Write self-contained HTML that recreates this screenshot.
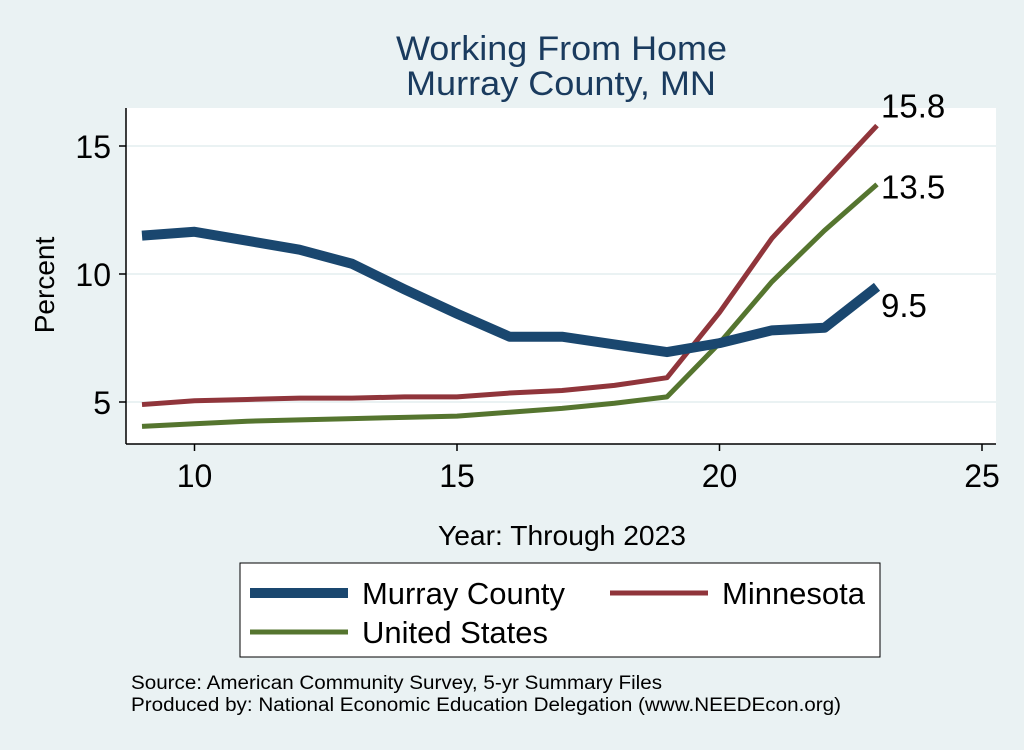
<!DOCTYPE html>
<html><head><meta charset="utf-8"><style>
body{margin:0;background:#eaf2f3;font-family:"Liberation Sans",sans-serif;}
</style></head><body>
<svg width="1024" height="745" xmlns="http://www.w3.org/2000/svg">
<rect width="1024" height="745" fill="#eaf2f3"/>
<text x="396" y="60" font-size="34" fill="#1a3b5e" textLength="331" lengthAdjust="spacingAndGlyphs">Working From Home</text>
<text x="406" y="95" font-size="34" fill="#1a3b5e" textLength="310" lengthAdjust="spacingAndGlyphs">Murray County, MN</text>
<rect x="126" y="108" width="870" height="336" fill="#fff"/>
<g id="grid"></g>
<line x1="126" y1="108" x2="126" y2="444" stroke="#000" stroke-width="1.5"/>
<line x1="126" y1="444" x2="996" y2="444" stroke="#000" stroke-width="1.5"/>
<g id="axes"></g>
<g id="lines"></g>
<text x="54" y="285" font-size="28" text-anchor="middle" transform="rotate(-90 54 285)">Percent</text>
<text x="438" y="545" font-size="28" textLength="248" lengthAdjust="spacingAndGlyphs">Year: Through 2023</text>
<g>
<rect x="240" y="563" width="640" height="94" fill="#fff" stroke="#000" stroke-width="1"/>
<line x1="250" y1="593" x2="348" y2="593" stroke="#1a476f" stroke-width="10"/>
<text x="362" y="604" font-size="31" textLength="203" lengthAdjust="spacingAndGlyphs">Murray County</text>
<line x1="610" y1="593" x2="708" y2="593" stroke="#90353b" stroke-width="5"/>
<text x="722" y="604" font-size="31" textLength="143" lengthAdjust="spacingAndGlyphs">Minnesota</text>
<line x1="250" y1="632" x2="348" y2="632" stroke="#55752f" stroke-width="5"/>
<text x="362" y="643" font-size="31" textLength="186" lengthAdjust="spacingAndGlyphs">United States</text>
</g>
<text x="131" y="689" font-size="19" textLength="531" lengthAdjust="spacingAndGlyphs">Source: American Community Survey, 5-yr Summary Files</text>
<text x="131" y="711" font-size="19" textLength="710" lengthAdjust="spacingAndGlyphs">Produced by: National Economic Education Delegation (www.NEEDEcon.org)</text>
</svg>
<script>
const years=[9,10,11,12,13,14,15,16,17,18,19,20,21,22,23];
const murray=[11.5,11.65,11.3,10.95,10.4,9.4,8.45,7.55,7.55,7.25,6.95,7.3,7.8,7.9,9.5];
const minnesota=[4.9,5.05,5.1,5.15,5.15,5.2,5.2,5.35,5.45,5.65,5.95,8.5,11.4,13.6,15.8];
const unitedStates=[4.05,4.15,4.25,4.3,4.35,4.4,4.45,4.6,4.75,4.95,5.2,7.3,9.7,11.7,13.5];
const xTicks=[10,15,20,25];
const yTicks=[5,10,15];
const endLabels=["9.5","15.8","13.5"];
const NS="http://www.w3.org/2000/svg";
const X=v=>194.5+(v-10)*52.5;
const Y=v=>402-(v-5)*25.6;
function mk(t,a,p){const e=document.createElementNS(NS,t);for(const k in a)e.setAttribute(k,a[k]);p.appendChild(e);return e;}
const grid=document.getElementById('grid'),axes=document.getElementById('axes'),lines=document.getElementById('lines');
yTicks.forEach(v=>{
const g=mk('line',{x1:126,x2:996,y1:Y(v),y2:Y(v),stroke:'#eaf2f3','stroke-width':2},grid);


const t=mk('line',{x1:119,x2:126,y1:Y(v),y2:Y(v),stroke:'#000','stroke-width':1.5},axes);


const l=mk('text',{x:111,y:Y(v)+12,'font-size':32,'text-anchor':'end'},axes);l.textContent=v;


});
xTicks.forEach(v=>{
const t=mk('line',{x1:X(v),x2:X(v),y1:444,y2:451,stroke:'#000','stroke-width':1.5},axes);


const l=mk('text',{x:X(v),y:487,'font-size':32,'text-anchor':'middle'},axes);l.textContent=v;


});
const series=[[unitedStates,'#55752f',5,'line-united-states'],[minnesota,'#90353b',5,'line-minnesota'],[murray,'#1a476f',10,'line-murray-county']];
series.forEach(s=>{
const p=mk('polyline',{points:years.map((y,i)=>X(y)+','+Y(s[0][i])).join(' '),fill:'none',stroke:s[1],'stroke-width':s[2],'stroke-linejoin':'round'},lines);


});
const last=years.length-1;
const lab=[[murray,endLabels[0],30,'label-murray-end'],[minnesota,endLabels[1],-8,'label-minnesota-end'],[unitedStates,endLabels[2],14,'label-us-end']];
lab.forEach(s=>{
const t=mk('text',{x:X(years[last])+4,y:Y(s[0][last])+s[2],'font-size':33},lines);t.textContent=s[1];


});
</script>
</body></html>
